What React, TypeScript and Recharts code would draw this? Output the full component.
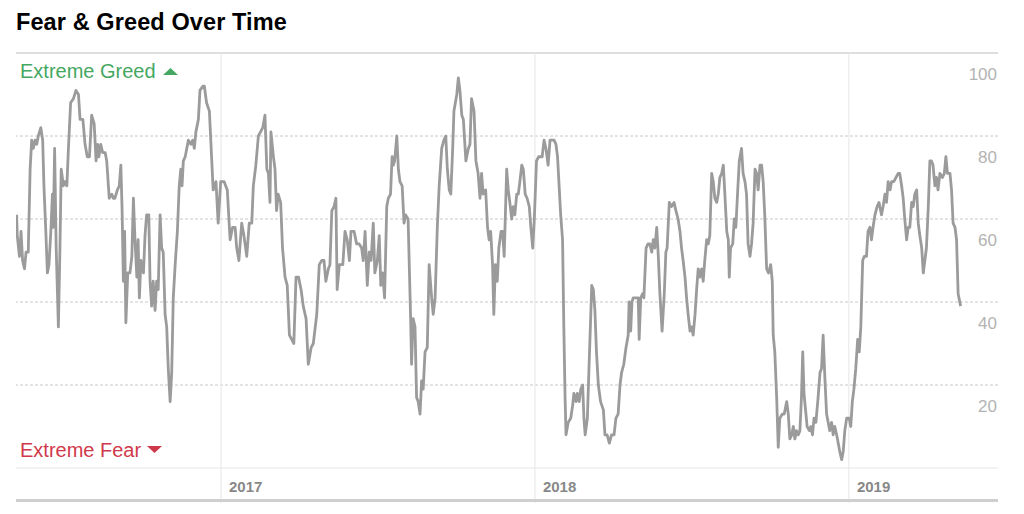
import { LineChart, Line, XAxis, YAxis, ReferenceLine } from "recharts";

// dates as decimal years, one entry per reading
const dates = [
  2016.349, 2016.351, 2016.358, 2016.363, 2016.368, 2016.374, 2016.379, 2016.386, 2016.392, 2016.397,
  2016.402, 2016.408, 2016.413, 2016.418, 2016.426, 2016.432, 2016.436, 2016.442, 2016.447, 2016.452,
  2016.458, 2016.463, 2016.466, 2016.47, 2016.475, 2016.482, 2016.487, 2016.491, 2016.498, 2016.503,
  2016.509, 2016.514, 2016.521, 2016.53, 2016.538, 2016.546, 2016.551, 2016.56, 2016.567, 2016.574,
  2016.581, 2016.588, 2016.596, 2016.602, 2016.607, 2016.611, 2016.617, 2016.623, 2016.631, 2016.636,
  2016.644, 2016.652, 2016.657, 2016.662, 2016.67, 2016.676, 2016.681, 2016.685, 2016.689, 2016.693,
  2016.697, 2016.703, 2016.71, 2016.716, 2016.721, 2016.726, 2016.732, 2016.736, 2016.74, 2016.745,
  2016.753, 2016.758, 2016.763, 2016.77, 2016.774, 2016.779, 2016.784, 2016.79, 2016.795, 2016.8,
  2016.806, 2016.811, 2016.816, 2016.822, 2016.827, 2016.832, 2016.838, 2016.843, 2016.848, 2016.854,
  2016.861, 2016.867, 2016.872, 2016.876, 2016.88, 2016.886, 2016.891, 2016.896, 2016.904, 2016.91,
  2016.915, 2016.92, 2016.928, 2016.933, 2016.942, 2016.947, 2016.954, 2016.963, 2016.97, 2016.975,
  2016.984, 2016.991, 2016.999, 2017.01, 2017.02, 2017.029, 2017.037, 2017.045, 2017.05, 2017.057,
  2017.066, 2017.073, 2017.082, 2017.09, 2017.098, 2017.103, 2017.111, 2017.119, 2017.126, 2017.133,
  2017.14, 2017.146, 2017.151, 2017.156, 2017.159, 2017.167, 2017.172, 2017.177, 2017.182, 2017.19,
  2017.196, 2017.204, 2017.211, 2017.218, 2017.225, 2017.232, 2017.239, 2017.247, 2017.255, 2017.262,
  2017.271, 2017.278, 2017.287, 2017.294, 2017.305, 2017.313, 2017.321, 2017.328, 2017.334, 2017.342,
  2017.347, 2017.353, 2017.36, 2017.366, 2017.37, 2017.377, 2017.388, 2017.395, 2017.402, 2017.409,
  2017.414, 2017.424, 2017.432, 2017.44, 2017.448, 2017.453, 2017.459, 2017.466, 2017.472, 2017.478,
  2017.485, 2017.49, 2017.498, 2017.504, 2017.509, 2017.515, 2017.521, 2017.528, 2017.533, 2017.54,
  2017.545, 2017.549, 2017.553, 2017.56, 2017.565, 2017.57, 2017.577, 2017.583, 2017.588, 2017.596,
  2017.604, 2017.607, 2017.612, 2017.618, 2017.623, 2017.628, 2017.634, 2017.639, 2017.644, 2017.65,
  2017.657, 2017.663, 2017.671, 2017.676, 2017.682, 2017.689, 2017.695, 2017.703, 2017.71, 2017.716,
  2017.721, 2017.727, 2017.732, 2017.738, 2017.742, 2017.751, 2017.756, 2017.761, 2017.767, 2017.772,
  2017.78, 2017.788, 2017.793, 2017.798, 2017.806, 2017.812, 2017.819, 2017.825, 2017.83, 2017.835,
  2017.843, 2017.849, 2017.854, 2017.859, 2017.865, 2017.869, 2017.874, 2017.88, 2017.885, 2017.892,
  2017.897, 2017.902, 2017.91, 2017.915, 2017.92, 2017.926, 2017.931, 2017.936, 2017.942, 2017.947,
  2017.952, 2017.958, 2017.963, 2017.969, 2017.975, 2017.982, 2017.987, 2017.993, 2017.998, 2018.005,
  2018.012, 2018.018, 2018.023, 2018.029, 2018.035, 2018.042, 2018.048, 2018.054, 2018.061, 2018.067,
  2018.072, 2018.077, 2018.082, 2018.088, 2018.092, 2018.096, 2018.099, 2018.106, 2018.114, 2018.12,
  2018.124, 2018.131, 2018.135, 2018.141, 2018.146, 2018.152, 2018.156, 2018.16, 2018.167, 2018.173,
  2018.181, 2018.186, 2018.191, 2018.196, 2018.202, 2018.209, 2018.218, 2018.223, 2018.23, 2018.237,
  2018.244, 2018.252, 2018.258, 2018.265, 2018.271, 2018.276, 2018.283, 2018.29, 2018.297, 2018.3,
  2018.305, 2018.309, 2018.313, 2018.318, 2018.324, 2018.329, 2018.332, 2018.337, 2018.343, 2018.347,
  2018.354, 2018.36, 2018.366, 2018.372, 2018.377, 2018.382, 2018.388, 2018.393, 2018.398, 2018.405,
  2018.412, 2018.417, 2018.421, 2018.428, 2018.435, 2018.443, 2018.449, 2018.456, 2018.462, 2018.467,
  2018.472, 2018.478, 2018.483, 2018.488, 2018.494, 2018.499, 2018.504, 2018.51, 2018.515, 2018.52,
  2018.525, 2018.531, 2018.536, 2018.541, 2018.547, 2018.552, 2018.557, 2018.563, 2018.568, 2018.573,
  2018.579, 2018.584, 2018.589, 2018.595, 2018.6, 2018.605, 2018.611, 2018.616, 2018.619, 2018.623,
  2018.63, 2018.635, 2018.64, 2018.646, 2018.651, 2018.658, 2018.663, 2018.669, 2018.674, 2018.679,
  2018.685, 2018.69, 2018.695, 2018.701, 2018.706, 2018.711, 2018.717, 2018.722, 2018.727, 2018.732,
  2018.738, 2018.744, 2018.751, 2018.756, 2018.759, 2018.764, 2018.77, 2018.775, 2018.78, 2018.788,
  2018.794, 2018.802, 2018.807, 2018.812, 2018.818, 2018.823, 2018.828, 2018.833, 2018.839, 2018.844,
  2018.849, 2018.853, 2018.857, 2018.862, 2018.867, 2018.874, 2018.879, 2018.884, 2018.889, 2018.895,
  2018.902, 2018.908, 2018.913, 2018.918, 2018.924, 2018.929, 2018.934, 2018.939, 2018.945, 2018.95,
  2018.955, 2018.961, 2018.966, 2018.971, 2018.977, 2018.982, 2018.987, 2018.993, 2019.001, 2019.006,
  2019.011, 2019.016, 2019.022, 2019.028, 2019.033, 2019.038, 2019.044, 2019.049, 2019.056, 2019.061,
  2019.067, 2019.072, 2019.077, 2019.083, 2019.09, 2019.096, 2019.104, 2019.109, 2019.115, 2019.12,
  2019.125, 2019.131, 2019.136, 2019.143, 2019.15, 2019.157, 2019.162, 2019.168, 2019.173, 2019.178,
  2019.184, 2019.189, 2019.194, 2019.2, 2019.205, 2019.21, 2019.216, 2019.221, 2019.226, 2019.232,
  2019.237, 2019.242, 2019.247, 2019.253, 2019.258, 2019.263, 2019.268, 2019.274, 2019.279, 2019.284,
  2019.29, 2019.298, 2019.304, 2019.309, 2019.314, 2019.322, 2019.327, 2019.332, 2019.338, 2019.343,
  2019.348, 2019.356,
];

// Fear & Greed index readings
const scores = [
  61, 56, 51, 57, 50, 48, 52, 52, 72, 79,
  77, 79, 78, 80, 82, 79, 68, 57, 47, 49,
  57, 66, 58, 77, 53, 34, 53, 72, 68, 69,
  68, 77, 88, 89, 91, 90, 84, 84, 78, 75,
  75, 85, 83, 74, 78, 75, 78, 76, 76, 74,
  65, 66, 65, 65, 67, 68, 73, 62, 45, 57,
  35, 47, 47, 51, 65, 55, 46, 55, 41, 50,
  47, 56, 61, 61, 45, 39, 45, 38, 45, 43,
  61, 53, 52, 37, 34, 24, 16, 23, 41, 49,
  57, 68, 72, 68, 74, 75, 77, 79, 78, 79,
  77, 81, 84, 91, 92, 92, 88, 86, 75, 67,
  69, 59, 69, 69, 67, 55, 58, 58, 53, 50,
  59, 56, 51, 59, 59, 68, 73, 80, 81, 82,
  85, 72, 71, 64, 81, 75, 72, 62, 66, 64,
  53, 46, 44, 32, 31, 30, 46, 46, 43, 39,
  36, 25, 29, 30, 37, 49, 50, 50, 45, 48,
  49, 62, 63, 65, 43, 49, 49, 57, 55, 50,
  57, 57, 54, 54, 53, 50, 57, 44, 52, 50,
  59, 47, 50, 56, 44, 47, 41, 63, 65, 66,
  75, 73, 74, 80, 72, 69, 68, 59, 61, 60,
  36, 25, 36, 34, 17, 16, 13, 21, 19, 28,
  29, 49, 41, 37, 41, 58, 68, 77, 79, 80,
  72, 67, 66, 77, 86, 90, 94, 91, 85, 84,
  74, 77, 78, 89, 86, 74, 71, 65, 71, 66,
  67, 58, 55, 57, 49, 37, 49, 45, 53, 57,
  57, 51, 72, 67, 64, 60, 63, 61, 66, 66,
  69, 73, 72, 66, 65, 63, 58, 53, 60, 74,
  75, 75, 75, 79, 77, 73, 79, 79, 79, 78,
  75, 68, 61, 55, 34, 17, 8, 11, 12, 15,
  18, 16, 18, 16, 19, 20, 12, 8, 12, 26,
  44, 43, 38, 28, 20, 16, 14, 8, 8, 6,
  8, 8, 12, 13, 20, 23, 25, 29, 32, 40,
  33, 40, 41, 41, 41, 41, 31, 41, 42, 41,
  53, 54, 54, 52, 55, 53, 58, 51, 42, 33,
  42, 52, 53, 64, 63, 64, 62, 60, 57, 53,
  50, 46, 41, 37, 33, 34, 32, 37, 43, 48,
  46, 48, 45, 50, 55, 54, 56, 71, 69, 65,
  64, 66, 70, 71, 73, 66, 57, 55, 46, 53,
  54, 60, 58, 67, 74, 77, 71, 69, 66, 54,
  51, 54, 59, 72, 71, 67, 73, 73, 69, 61,
  48, 47, 49, 45, 32, 28, 17, 5, 12, 13,
  13, 16, 13, 7, 8, 10, 7, 9, 8, 9,
  17, 28, 18, 14, 10, 9, 10, 8, 12, 11,
  17, 23, 24, 32, 21, 13, 11, 9, 11, 8,
  10, 8, 6, 4, 2, 4, 9, 12, 12, 10,
  16, 19, 24, 31, 28, 34, 50, 51, 51, 57,
  58, 55, 58, 61, 63, 64, 61, 63, 66, 64,
  69, 67, 69, 69, 70, 71, 71, 68, 65, 60,
  55, 58, 58, 64, 63, 66, 67, 59, 56, 53,
  47, 50, 53, 63, 74, 74, 73, 68, 70, 67,
  71, 70, 71, 75, 71, 71, 67, 59, 58, 55,
  42, 39,
];

const yearTicks = [2017, 2018, 2019];
const scoreTicks = [20, 40, 60, 80, 100];
const dashedLevels = [20, 40, 60, 80];
const timeDomain = [2016.347, 2019.475];

const data = dates.map((t, i) => ({ t, score: scores[i] }));

const FONT = '"Liberation Sans", Arial, Helvetica, sans-serif';

function YearTick(props: any) {
  const { x, y, payload } = props;
  return (
    <g>
      <line x1={x} y1={y} x2={x} y2={y + 35} stroke="#e6e6e6" />
      <text x={x + 8} y={y + 24} fill="#888" fontSize={15} fontWeight={700} fontFamily={FONT}>
        {payload.value}
      </text>
    </g>
  );
}

function ScoreTick(props: any) {
  const { x, y, payload } = props;
  return (
    <text x={x} y={y + 27} textAnchor="end" fill="#b3b3b3" fontSize={17} fontFamily={FONT}>
      {payload.value}
    </text>
  );
}

export default function App() {
  return (
    <div style={{ position: "relative", width: 1008, height: 498, fontFamily: FONT }}>
      <LineChart
        width={1008}
        height={498}
        data={data}
        margin={{ top: 45, right: 18, bottom: 0, left: 8 }}
      >
        <XAxis
          dataKey="t"
          type="number"
          domain={timeDomain}
          ticks={yearTicks}
          allowDataOverflow
          interval={0}
          height={38}
          axisLine={{ stroke: "#e6e6e6" }}
          tickLine={false}
          tickSize={0}
          tickMargin={0}
          tick={YearTick}
        />
        <YAxis
          orientation="right"
          mirror
          domain={[0, 100]}
          ticks={scoreTicks}
          axisLine={false}
          tickLine={false}
          tickSize={0}
          tickMargin={1}
          tick={ScoreTick}
        />
        {dashedLevels.map((v) => (
          <ReferenceLine key={v} y={v} stroke="#c8c8c8" strokeDasharray="3 2" />
        ))}
        <ReferenceLine y={100} stroke="#dedede" strokeWidth={2} />
        {yearTicks.map((yr) => (
          <ReferenceLine key={yr} x={yr} stroke="#e6e6e6" />
        ))}
        <Line
          type="linear"
          dataKey="score"
          stroke="#9b9b9b"
          strokeWidth={2.8}
          strokeLinejoin="round"
          dot={false}
          activeDot={false}
          isAnimationActive={false}
        />
      </LineChart>
      <svg
        width={1008}
        height={498}
        style={{ position: "absolute", left: 0, top: 0, pointerEvents: "none" }}
      >
        <text x={8} y={21.5} fontSize={23.5} fontWeight={700} letterSpacing={0.1} fill="#000" fontFamily={FONT}>
          Fear &amp; Greed Over Time
        </text>
        <text x={12} y={69.5} fontSize={20} fill="#45a862" fontFamily={FONT}>
          Extreme Greed
        </text>
        <polygon points="155,67 170,67 162.5,60" fill="#45a862" />
        <text x={12} y={448.7} fontSize={20} fill="#d0394b" fontFamily={FONT}>
          Extreme Fear
        </text>
        <polygon points="139,438 154,438 146.5,445" fill="#d0394b" />
        <rect x={8} y={491} width={982} height={3} fill="#cfcfcf" />
      </svg>
    </div>
  );
}
